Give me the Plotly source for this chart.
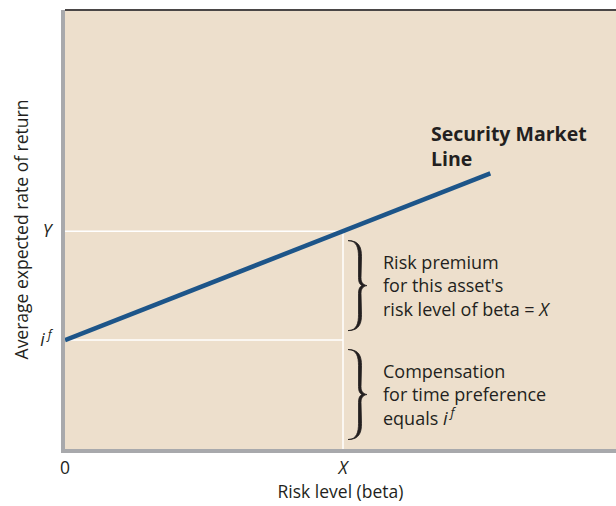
import plotly.graph_objects as go

# Data (beta units: X = 1; returns: i^f = 1, Y = 2)
beta_x = 1.0
risk_free = 1.0
return_y = 2.0
sml_beta = [0.0, 1.53]
sml_return = [risk_free + (return_y - risk_free) * b / beta_x for b in sml_beta]
x_tick_vals = [0.0, beta_x]
x_tick_text = ["0", "<i>X</i>"]
y_tick_vals = [risk_free, return_y]
y_tick_text = ["<i>i\u2009<sup>f</sup></i>", "<i>Y</i>"]

BG = "#EDDFCC"
AXIS = "#A8A9AC"
INK = "#231F20"
BLUE = "#1D5589"
FONT = "Open Sans"

fig = go.Figure()

# white guide lines
fig.add_trace(go.Scatter(x=[0, beta_x], y=[return_y, return_y], mode="lines",
                         line=dict(color="white", width=1.5), hoverinfo="skip", showlegend=False))
fig.add_trace(go.Scatter(x=[0, beta_x], y=[risk_free, risk_free], mode="lines",
                         line=dict(color="white", width=1.5), hoverinfo="skip", showlegend=False))
fig.add_trace(go.Scatter(x=[beta_x, beta_x], y=[0, return_y], mode="lines",
                         line=dict(color="white", width=1.5), hoverinfo="skip", showlegend=False))

# SML
fig.add_trace(go.Scatter(x=sml_beta, y=sml_return, mode="lines",
                         line=dict(color=BLUE, width=4.5), showlegend=False))

def brace_path(h):
    # filled right-facing curly brace, pixel offsets from anchor (middle of brace)
    x0, xm, x1 = 5, 16, 24
    return (
        f"M{x0},{h} "
        f"C{xm+1},{h} {xm+2.5},{h-8} {xm+2.5},{h-16} "
        f"L{xm+2},8 "
        f"C{xm+2},3 {xm+4},0.8 {x1},0 "
        f"C{xm+4},-0.8 {xm+2},-3 {xm+2},-8 "
        f"L{xm+2.5},{-h+16} "
        f"C{xm+2.5},{-h+8} {xm+1},{-h} {x0},{-h} "
        f"C{xm-2},{-h} {xm-0.5},{-h+8} {xm-0.5},{-h+16} "
        f"L{xm-0.5},-8 "
        f"C{xm-0.5},-3 {xm+1},-1 {xm+3},0 "
        f"C{xm+1},1 {xm-0.5},3 {xm-0.5},8 "
        f"L{xm-0.5},{h-16} "
        f"C{xm-0.5},{h-8} {xm-2},{h} {x0},{h} Z"
    )

shapes = []
for lo, hi in [(risk_free, return_y), (0.0, risk_free)]:
    mid = (lo + hi) / 2
    shapes.append(dict(type="path", xref="x", yref="y", xsizemode="pixel", ysizemode="pixel",
                       xanchor=beta_x, yanchor=mid, path=brace_path(45),
                       line=dict(color=INK, width=0.8), fillcolor=INK))
# top border line
shapes.append(dict(type="line", xref="paper", yref="paper", x0=0, x1=1, y0=1, y1=1,
                   line=dict(color="#4A4646", width=2)))

annotations = [
    dict(x=1.31, y=2.78, xref="x", yref="y", text="<b>Security Market<br>Line</b>",
         showarrow=False, xanchor="left", yanchor="middle", align="left",
         font=dict(family=FONT, size=19.5, color=INK)),
    dict(x=beta_x, y=(risk_free + return_y) / 2, xref="x", yref="y", xshift=38,
         text="Risk premium<br>for this asset's<br>risk level of beta = <i>X</i>",
         showarrow=False, xanchor="left", yanchor="middle", align="left",
         font=dict(family=FONT, size=18, color=INK)),
    dict(x=beta_x, y=risk_free / 2, xref="x", yref="y", xshift=38,
         text="Compensation<br>for time preference<br>equals <i>i\u2009<sup>f</sup></i>",
         showarrow=False, xanchor="left", yanchor="middle", align="left",
         font=dict(family=FONT, size=18, color=INK)),
]

fig.update_layout(
    width=616, height=506,
    margin=dict(l=65, r=0, t=10, b=57),
    paper_bgcolor="white", plot_bgcolor=BG,
    font=dict(family=FONT, size=17, color=INK),
    shapes=shapes, annotations=annotations,
    xaxis=dict(range=[0, 1.982], showgrid=False, zeroline=False,
               showline=True, linecolor=AXIS, linewidth=4,
               tickmode="array", tickvals=x_tick_vals, ticktext=x_tick_text,
               ticks="", ticklabelstandoff=0, tickfont=dict(size=17.5, color=INK),
               title=dict(text="Risk level (beta)", standoff=6, font=dict(size=17.5, color=INK)),
               fixedrange=True),
    yaxis=dict(range=[0, 4.03], showgrid=False, zeroline=False,
               showline=True, linecolor=AXIS, linewidth=4,
               tickmode="array", tickvals=y_tick_vals, ticktext=y_tick_text,
               ticks="", ticklabelstandoff=6, tickfont=dict(size=17.5, color=INK),
               title=dict(text="Average expected rate of return", standoff=8,
                          font=dict(size=17.5, color=INK)),
               fixedrange=True),
)

fig.write_html(
    "out.html",
    config={"displayModeBar": False},
    post_script="document.body.style.margin='0';document.body.style.overflow='hidden';"
                "document.documentElement.style.overflow='hidden';",
)
